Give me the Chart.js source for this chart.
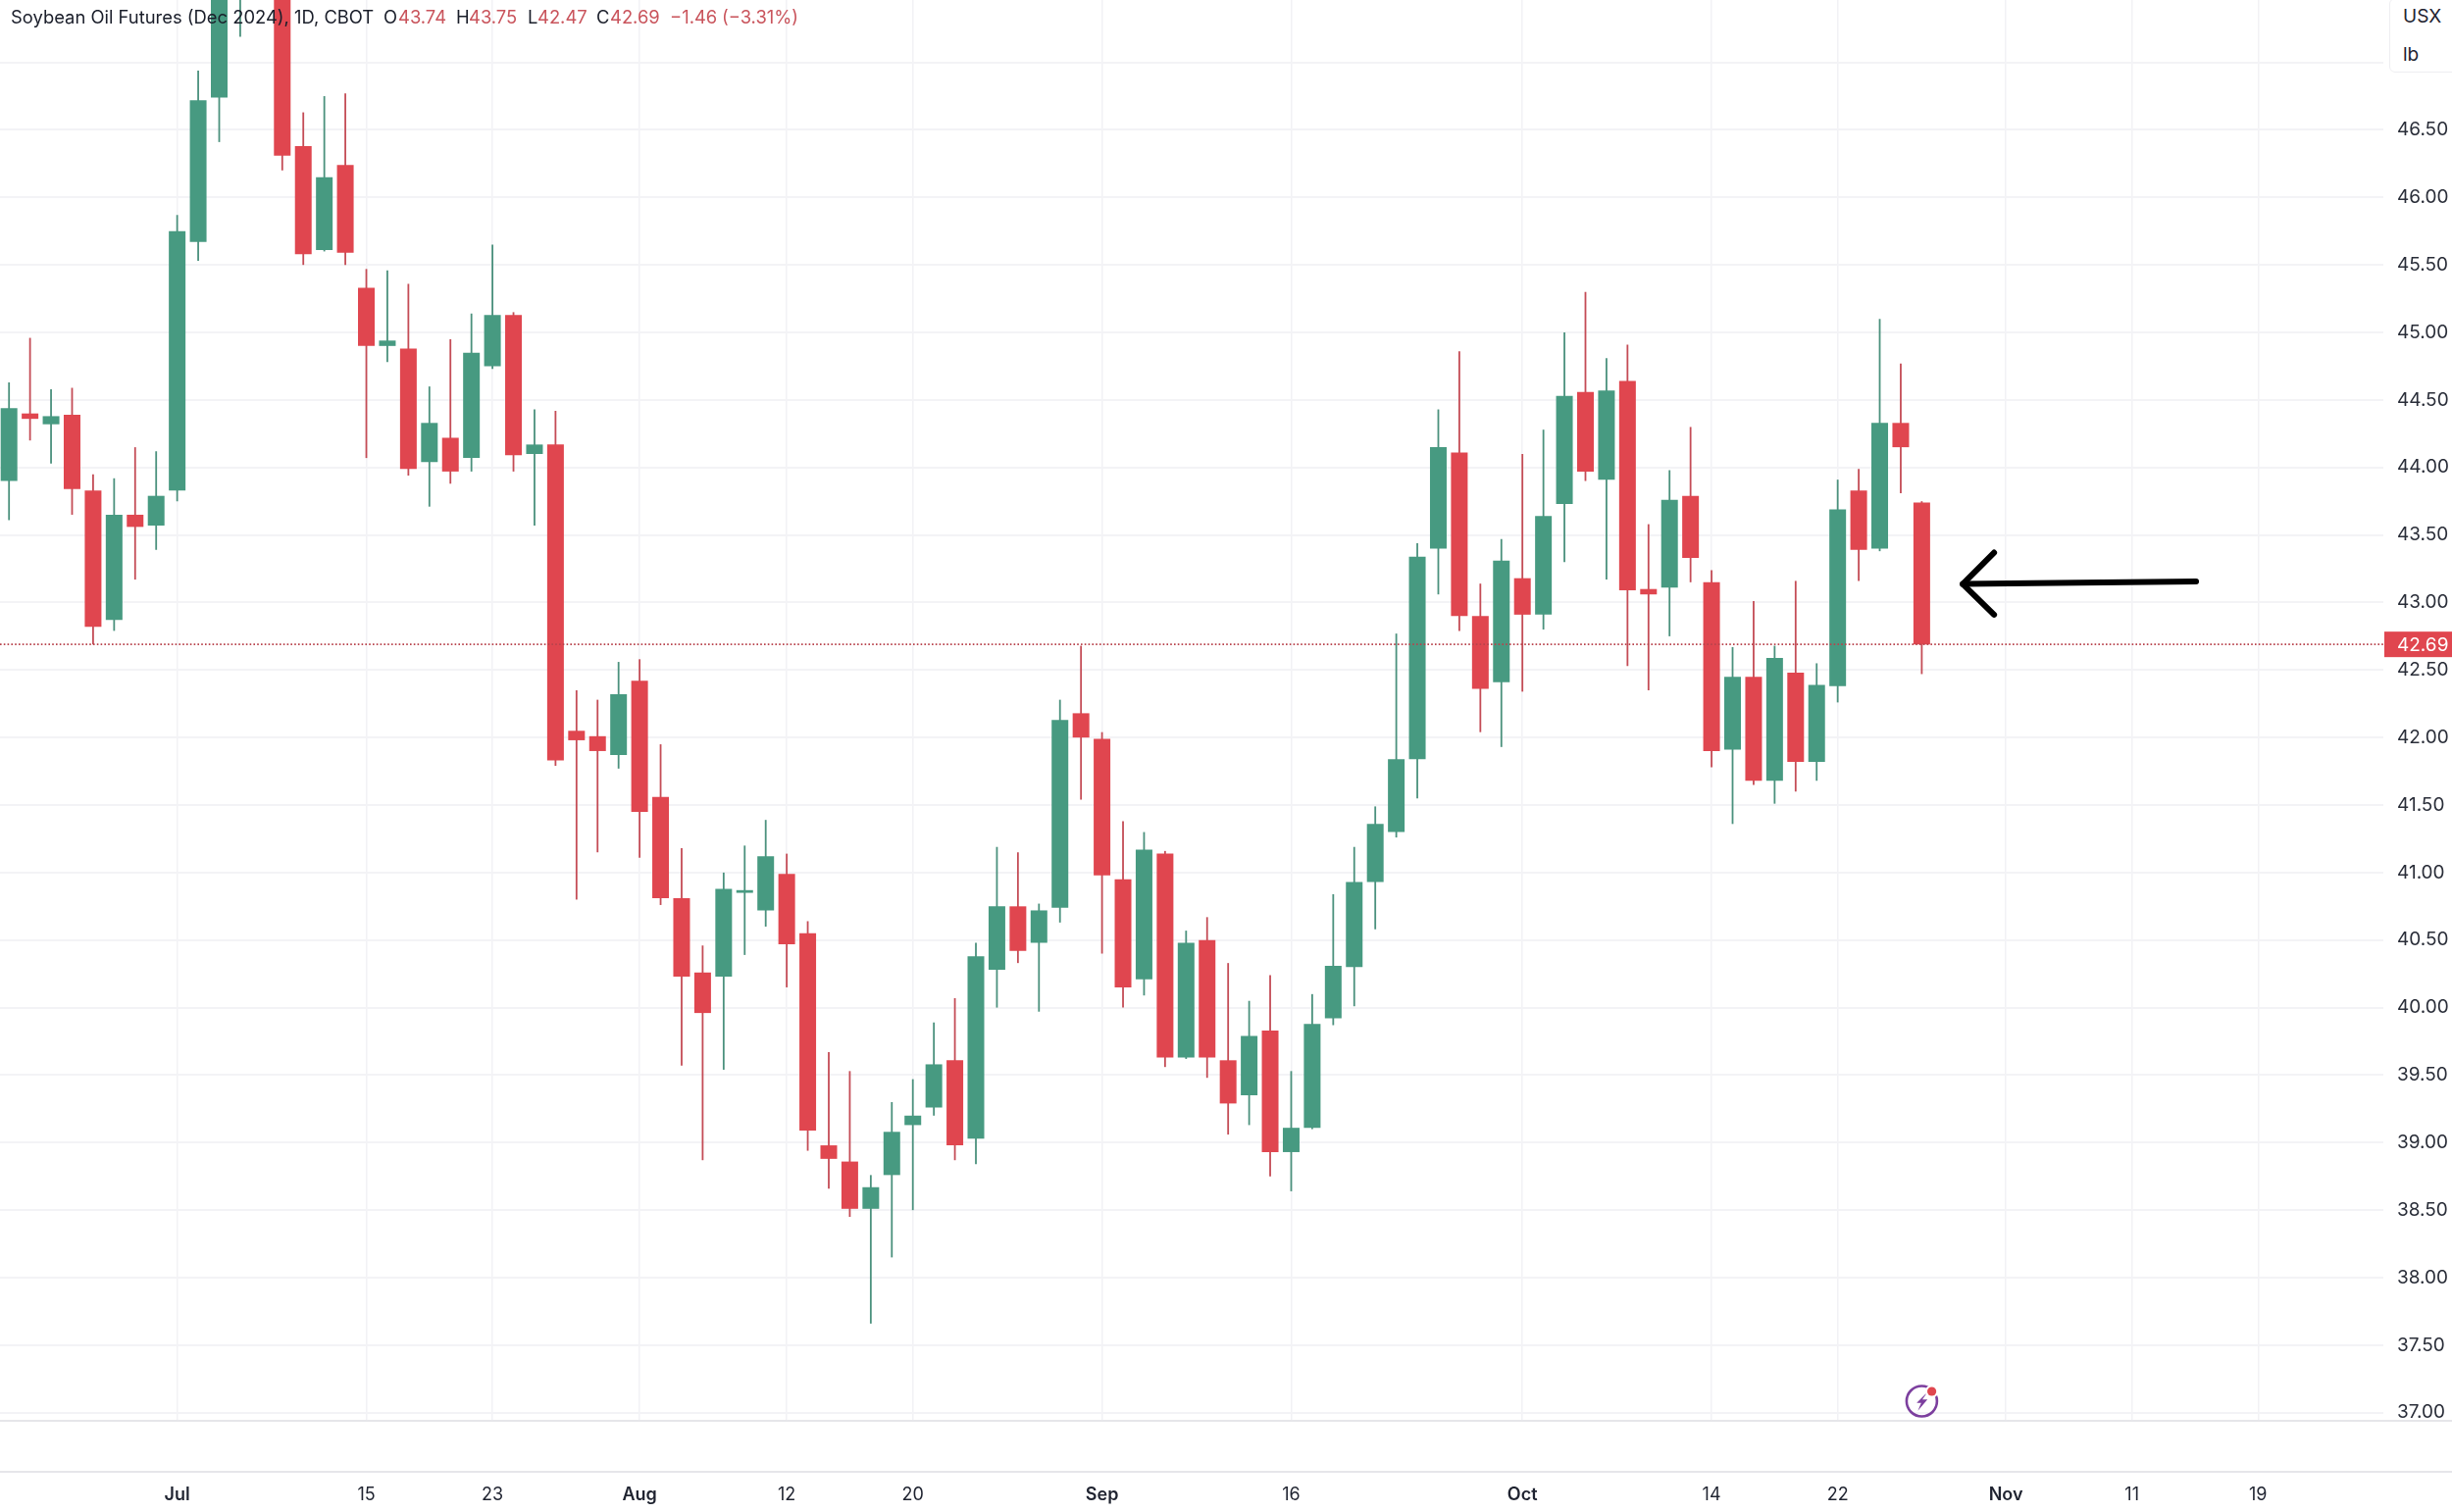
<!DOCTYPE html>
<html>
<head>
<meta charset="utf-8">
<script src="https://cdn.jsdelivr.net/npm/chart.js@4"></script>
<style>
html,body{margin:0;padding:0;background:#fff;width:2500px;height:1542px;overflow:hidden}
#wrap{position:relative;width:2500px;height:1542px}
canvas{position:absolute;left:0;top:0}
.h{position:absolute;top:4px;font:18.4px/26px Inter,sans-serif;color:#1a1e2a;white-space:pre}
.r{color:#c9545c}
.rule{position:absolute;height:2px;background:#e6e6ea}
#box{position:absolute;left:2436px;top:-2px;width:70px;height:76px;border:1px solid #eeeef1;border-radius:6px;background:#fff;box-sizing:border-box}
.unit{position:absolute;left:2450px;font:19px/24px Inter,sans-serif;color:#1f2330}
</style>
</head>
<body>
<div id="wrap">
<canvas id="c" width="2500" height="1542"></canvas>
<div class="rule" style="left:0;top:1448px;width:2500px"></div>
<div class="rule" style="left:0;top:1500px;width:2500px"></div>
<div class="h" style="left:11px">Soybean Oil Futures (Dec 2024), 1D, CBOT</div>
<div class="h" style="left:391px">O</div><div class="h r" style="left:406px">43.74</div>
<div class="h" style="left:465px">H</div><div class="h r" style="left:478px">43.75</div>
<div class="h" style="left:538px">L</div><div class="h r" style="left:548px">42.47</div>
<div class="h" style="left:608px">C</div><div class="h r" style="left:622px">42.69</div>
<div class="h r" style="left:683px">−1.46</div><div class="h r" style="left:736px">(−3.31%)</div>
<div id="box"></div>
<div class="unit" style="top:5px">USX</div>
<div class="unit" style="top:44px">lb</div>
<svg style="position:absolute;left:1930px;top:1400px" width="60" height="60" viewBox="-29.4 -29 60 60">
  <circle cx="0" cy="0" r="15.5" fill="none" stroke="#7c3f9e" stroke-width="2.6"/>
  <path d="M5.8-9.2-5.2 1.7H-.6L-4 9.8 5.8-1.7H.6Z" fill="#7c3f9e"/>
  <circle cx="10.2" cy="-10" r="6.6" fill="#fff"/>
  <circle cx="10.2" cy="-10" r="4.6" fill="#e0474f"/>
</svg>
</div>
<script>
// Soybean Oil Futures (Dec 2024), daily candles, one entry per trading day
const opens  = [43.90,44.40,44.32,44.39,43.83,42.87,43.65,43.57,43.83,45.67,46.74,47.55,47.95,47.60,46.38,45.61,46.24,45.33,44.90,44.88,44.04,44.22,44.07,44.75,45.13,44.10,44.17,42.05,42.01,41.87,42.42,41.56,40.81,40.26,40.23,40.85,40.72,40.99,40.55,38.98,38.86,38.51,38.76,39.13,39.26,39.61,39.03,40.28,40.75,40.48,40.74,42.18,41.99,40.95,40.21,41.14,39.63,40.50,39.61,39.35,39.83,38.93,39.11,39.92,40.30,40.93,41.30,41.84,43.40,44.11,42.90,42.41,43.18,42.91,43.73,44.56,43.91,44.64,43.10,43.11,43.79,43.15,41.91,42.45,41.68,42.48,41.82,42.38,43.83,43.40,44.33,43.74];
const highs  = [44.63,44.96,44.58,44.59,43.95,43.92,44.15,44.12,45.87,46.94,48.00,48.10,48.30,47.90,46.63,46.75,46.77,45.47,45.46,45.36,44.60,44.95,45.14,45.65,45.15,44.43,44.42,42.35,42.28,42.56,42.58,41.95,41.18,40.46,41.00,41.20,41.39,41.14,40.64,39.67,39.53,38.76,39.30,39.47,39.89,40.07,40.48,41.19,41.15,40.77,42.28,42.68,42.04,41.38,41.30,41.16,40.57,40.67,40.33,40.05,40.24,39.53,40.10,40.84,41.19,41.49,42.77,43.44,44.43,44.86,43.14,43.47,44.10,44.28,45.00,45.30,44.81,44.91,43.58,43.98,44.30,43.24,42.67,43.01,42.68,43.16,42.55,43.91,43.99,45.10,44.77,43.75];
const lows   = [43.61,44.20,44.03,43.65,42.69,42.79,43.17,43.39,43.75,45.53,46.41,47.19,47.60,46.20,45.50,45.60,45.50,44.07,44.78,43.94,43.71,43.88,43.97,44.73,43.97,43.57,41.79,40.80,41.15,41.77,41.11,40.76,39.57,38.87,39.54,40.39,40.60,40.15,38.94,38.66,38.45,37.66,38.15,38.50,39.20,38.87,38.84,40.00,40.33,39.97,40.63,41.54,40.40,40.00,40.09,39.56,39.62,39.48,39.06,39.13,38.75,38.64,39.10,39.87,40.01,40.58,41.26,41.55,43.06,42.79,42.04,41.93,42.34,42.80,43.30,43.90,43.17,42.53,42.35,42.75,43.15,41.78,41.36,41.65,41.51,41.60,41.68,42.26,43.16,43.38,43.81,42.47];
const closes = [44.44,44.36,44.38,43.84,42.82,43.65,43.56,43.79,45.75,46.72,47.75,47.90,47.80,46.31,45.58,46.15,45.59,44.90,44.94,43.99,44.33,43.97,44.85,45.13,44.09,44.17,41.83,41.98,41.90,42.32,41.45,40.81,40.23,39.96,40.88,40.87,41.12,40.47,39.09,38.88,38.51,38.67,39.08,39.20,39.58,38.98,40.38,40.75,40.42,40.72,42.13,42.00,40.98,40.15,41.17,39.63,40.48,39.63,39.29,39.79,38.93,39.11,39.88,40.31,40.93,41.36,41.84,43.34,44.15,42.90,42.36,43.31,42.91,43.64,44.53,43.97,44.57,43.09,43.06,43.76,43.33,41.90,42.45,41.68,42.59,41.82,42.39,43.69,43.39,44.33,44.15,42.69];

const tickIndices = [8,17,23,30,37,43,52,61,72,81,87,95,101,107];
const tickLabels  = ['Jul','15','23','Aug','12','20','Sep','16','Oct','14','22','Nov','11','19'];
const monthLabels = ['Jul','Aug','Sep','Oct','Nov'];
const priceTicks  = [37,37.5,38,38.5,39,39.5,40,40.5,41,41.5,42,42.5,43,43.5,44,44.5,45,45.5,46,46.5,47];
const hiddenPriceTicks = [47];
const lastClose = 42.69;
const arrowShaft = [{x:104.05,y:43.155},{x:92.95,y:43.137}];
const arrowHead  = [{x:94.44,y:43.37},{x:92.95,y:43.137},{x:94.44,y:42.91}];

const UP='#479a81', DOWN='#e0464f', UPW='#4b917d', DOWNW='#c44c56';
const xMin=-0.429, xMax=112.96, yMin=36.94, yMax=47.462;
const isUp=opens.map((o,i)=>closes[i]>=o);
const FONT='Inter, sans-serif';

const priceTag={id:'priceTag',afterDraw(ch){
  const c=ch.ctx,y=ch.scales.y.getPixelForValue(lastClose);
  c.save();
  c.fillStyle=DOWN;c.fillRect(2431,y-13,69,26);
  c.fillStyle='#fff';c.font='19px '+FONT;c.textAlign='left';c.textBaseline='middle';
  c.fillText(lastClose.toFixed(2),2444,y+1);
  c.restore();
}};
const noPad=a=>{a.paddingTop=0;a.paddingBottom=0;a.paddingLeft=0;a.paddingRight=0;};

new Chart(document.getElementById('c'),{
  type:'bar',
  plugins:[priceTag],
  data:{datasets:[
    {type:'line',data:arrowShaft,borderColor:'#000',borderWidth:6,borderCapStyle:'round',borderJoinStyle:'round',pointRadius:0,order:0},
    {type:'line',data:arrowHead,borderColor:'#000',borderWidth:6,borderCapStyle:'round',borderJoinStyle:'round',pointRadius:0,order:0},
    {type:'line',data:[{x:xMin,y:lastClose},{x:xMax,y:lastClose}],borderColor:'#b8434c',borderWidth:1.6,borderDash:[1.6,2.2],pointRadius:0,order:1},
    {label:'Body',data:opens.map((o,i)=>({x:i,y:[o,closes[i]]})),backgroundColor:isUp.map(u=>u?UP:DOWN),barThickness:17,inflateAmount:0,borderWidth:0,order:2},
    {label:'Wick',data:lows.map((l,i)=>({x:i,y:[l,highs[i]]})),backgroundColor:isUp.map(u=>u?UPW:DOWNW),barThickness:1.8,inflateAmount:0,borderWidth:0,order:3}
  ]},
  options:{
    responsive:false,devicePixelRatio:1,animation:false,
    layout:{padding:0},
    datasets:{bar:{grouped:false}},
    plugins:{legend:{display:false},tooltip:{enabled:false},title:{display:false}},
    scales:{
      x:{type:'linear',min:xMin,max:xMax,offset:false,
        afterBuildTicks(a){a.ticks=tickIndices.map(v=>({value:v}));},
        afterFit(a){a.height=93;noPad(a);},
        grid:{color:'#f2f2f5',lineWidth:1.5,drawTicks:false,offset:false},
        border:{display:false},
        ticks:{autoSkip:false,maxRotation:0,minRotation:0,padding:65,color:'#1f2330',
          callback:v=>tickLabels[tickIndices.indexOf(v)],
          font:ctx=>{const l=tickLabels[ctx.index];return {family:FONT,size:18,weight:monthLabels.includes(l)?'600':'400'};}
        }
      },
      y:{type:'linear',position:'right',min:yMin,max:yMax,
        afterBuildTicks(a){a.ticks=priceTicks.map(v=>({value:v}));},
        afterFit(a){a.width=70;noPad(a);},
        grid:{color:'#f3f3f6',lineWidth:2,drawTicks:false},
        border:{display:false},
        ticks:{autoSkip:false,crossAlign:'near',padding:14,color:'#2a2e39',font:{family:FONT,size:19},
          callback:v=>hiddenPriceTicks.includes(v)?'':v.toFixed(2)
        }
      }
    }
  }
});
</script>
</body>
</html>
